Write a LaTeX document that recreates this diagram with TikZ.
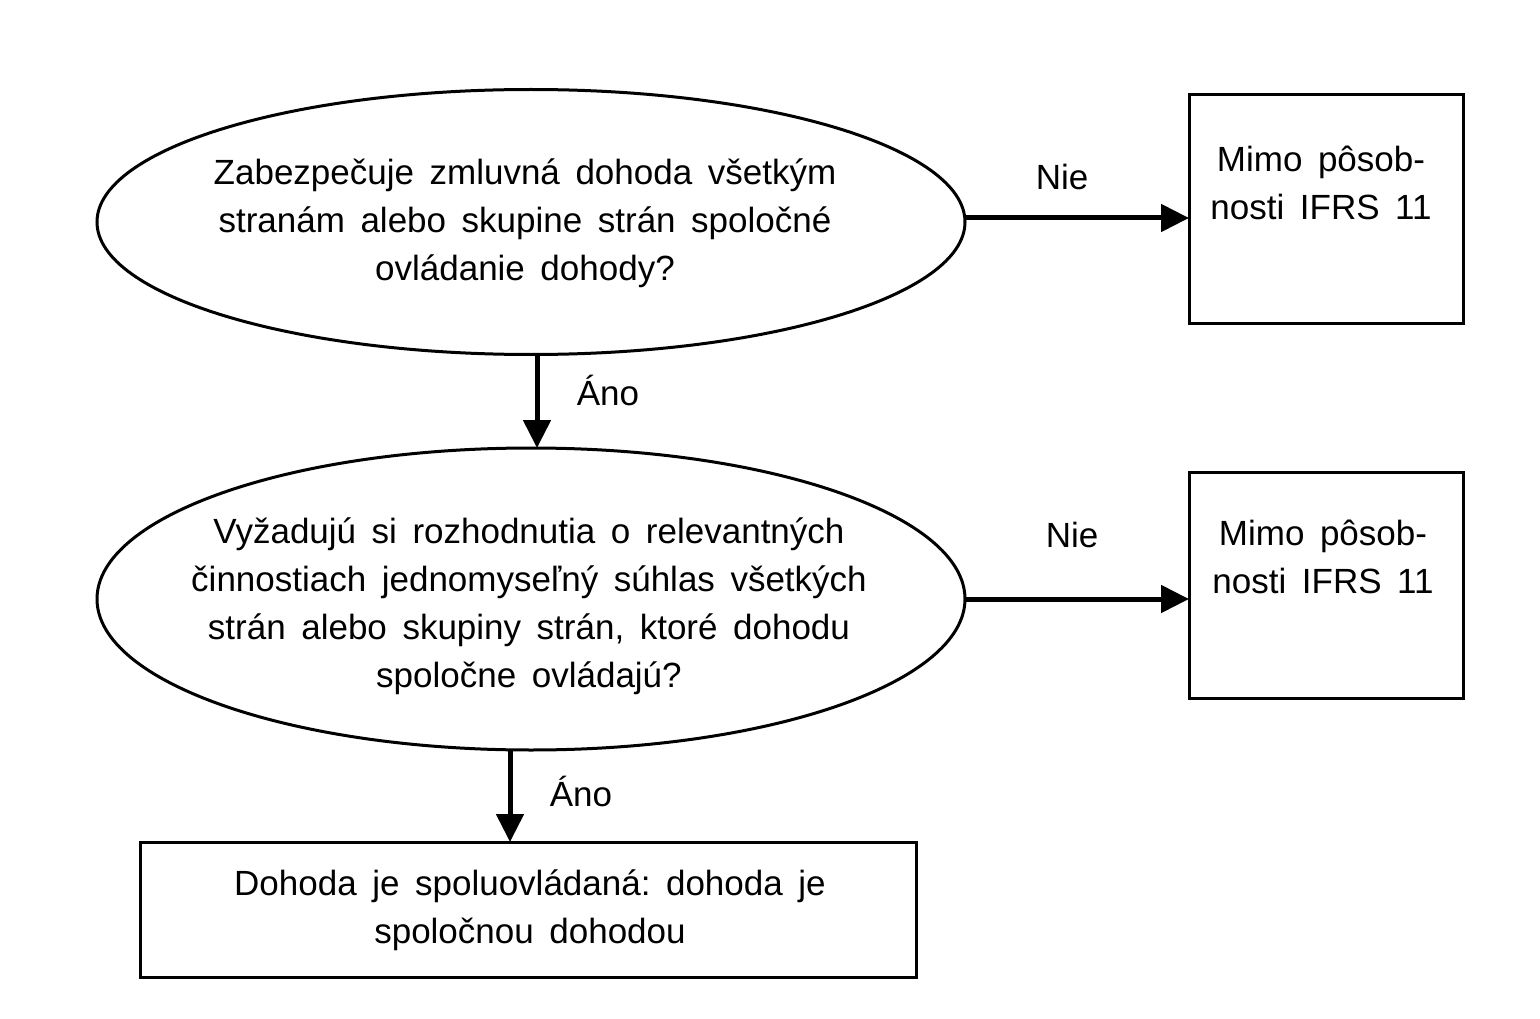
\documentclass[tikz,border=0pt]{standalone}
\usepackage{fontspec}
\setmainfont[WordSpace=1.6]{Liberation Sans}
\frenchspacing
\usetikzlibrary{shapes.geometric,arrows.meta}
\begin{document}
\begin{tikzpicture}[x=1pt,y=-1pt,
  shapeline/.style={draw=black,line width=3pt},
  decision/.style={shapeline,ellipse,inner sep=0pt,outer sep=0pt},
  outbox/.style={shapeline,rectangle,inner sep=0pt,outer sep=0pt},
  txt/.style={align=center,inner sep=0pt,font=\fontsize{35}{48}\selectfont},
  lbl/.style={inner sep=0pt,anchor=base,font=\fontsize{35}{48}\selectfont},
  flow/.style={line width=5pt,-{Triangle[length=28pt,width=27pt]}}
]
\useasboundingbox (0,0) rectangle (1540,1019);
\fill[white] (0,0) rectangle (1540,1019);

% decisions
\node[decision,minimum width=868pt,minimum height=265pt] (q1) at (531,222) {};
\node[txt] (q1t) at (525,223) {Zabezpečuje zmluvná dohoda všetkým\\stranám alebo skupine strán spoločné\\ovládanie dohody?};

\node[decision,minimum width=868pt,minimum height=302pt] (q2) at (531,599) {};
\node[txt] (q2t) at (529,606) {Vyžadujú si rozhodnutia o relevantných\\činnostiach jednomyseľný súhlas všetkých\\strán alebo skupiny strán, ktoré dohodu\\spoločne ovládajú?};

% outcome boxes
\node[outbox,minimum width=274pt,minimum height=228pt] (b1) at (1326,209) {};
\node[txt] (b1t) at (1321,183) {Mimo pôsob-\\nosti IFRS 11};

\node[outbox,minimum width=274pt,minimum height=226pt] (b2) at (1326,585) {};
\node[txt] (b2t) at (1323,557) {Mimo pôsob-\\nosti IFRS 11};

\node[outbox,minimum width=776pt,minimum height=135pt] (r) at (528,909.5) {};
\node[txt] (rt) at (530,910) {Dohoda je spoluovládaná: dohoda je\\spoločnou dohodou};

% connectors
\draw[flow] ([yshift=4]q1.east) -- ([yshift=4]q1.east -| b1.west);
\draw[flow] (q2.east) -- (q2.east -| b2.west);
\draw[flow] ([xshift=6]q1.south) -- ([xshift=6]q2.north);
\draw[flow] ([xshift=-21]q2.south) -- ([xshift=-21]q2.south |- r.north);

% labels
\node[lbl] (n1) at (1062,190) {Nie};
\node[lbl] (n2) at (1072,547) {Nie};
\node[lbl] (a1) at (608,405) {Áno};
\node[lbl] (a2) at (581,806) {Áno};
\end{tikzpicture}
\end{document}
